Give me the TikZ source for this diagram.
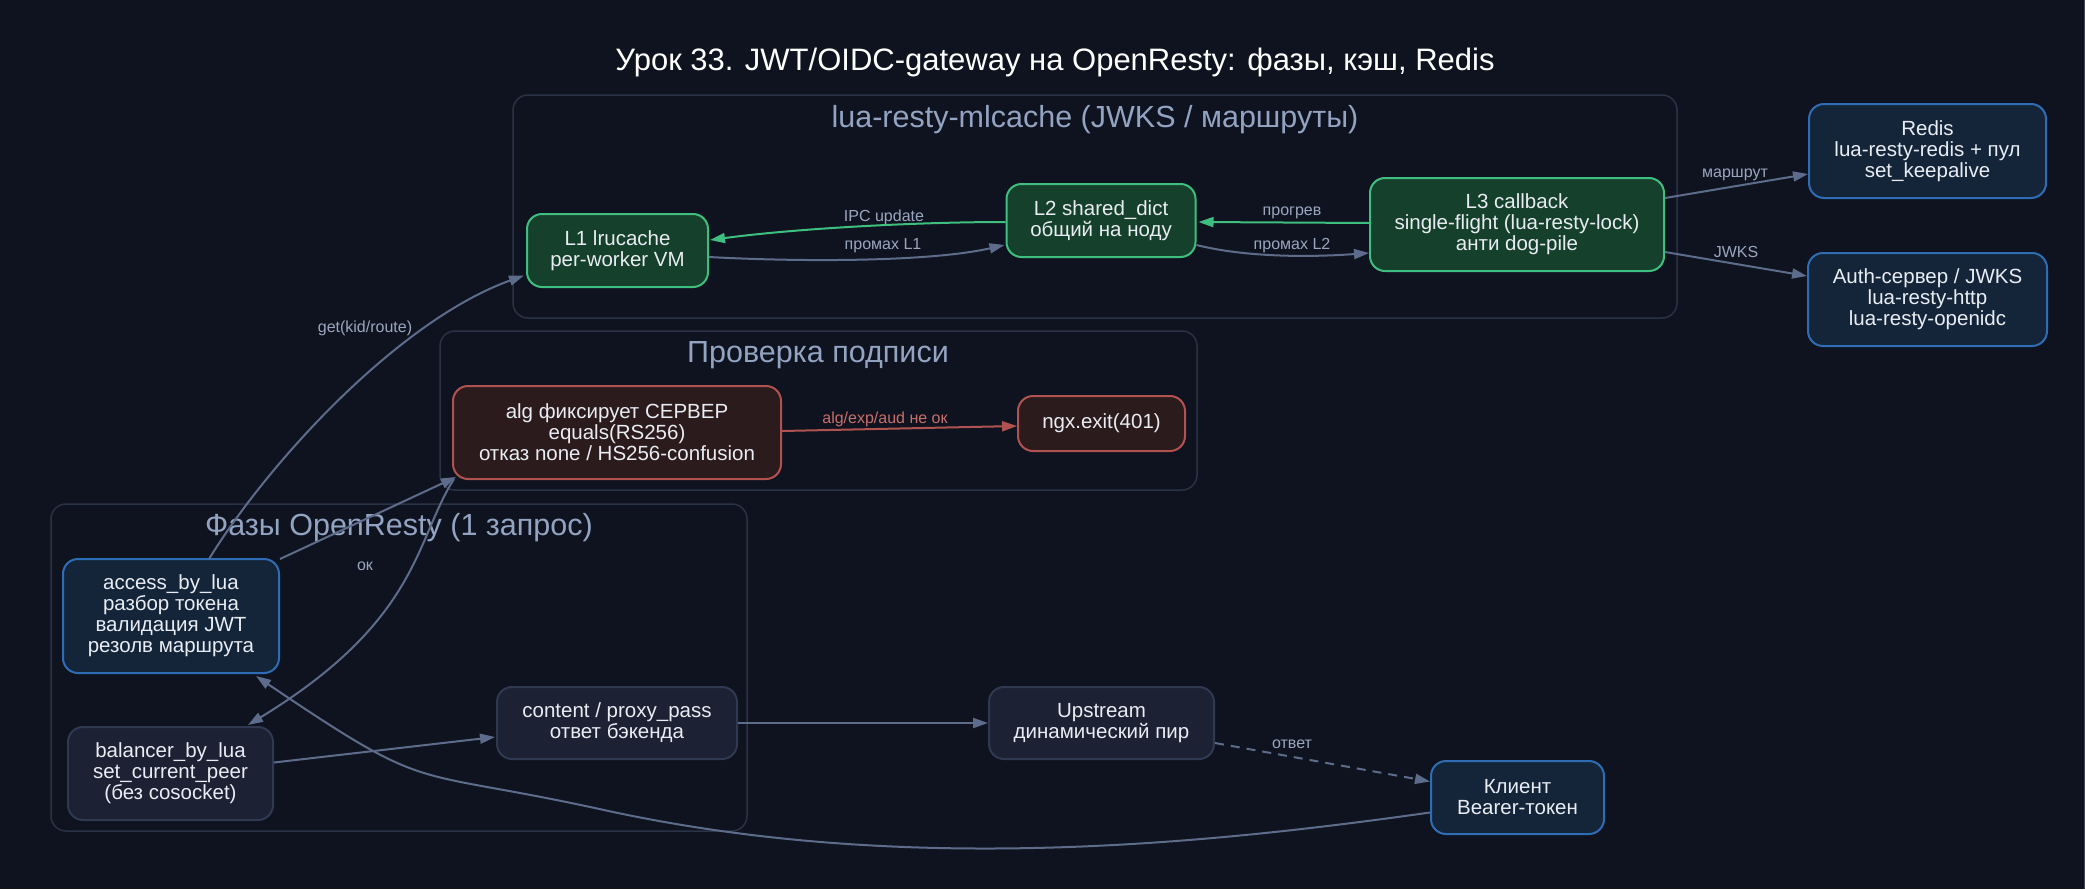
\documentclass[tikz,border=0pt]{standalone}
\usepackage{fontspec}
\setmainfont{Liberation Sans}
\usetikzlibrary{arrows.meta,calc}
\definecolor{bg}{HTML}{0F131F}
\definecolor{clborder}{HTML}{2A3246}
\definecolor{cllabel}{HTML}{93A3C2}
\definecolor{edgec}{HTML}{5E6C8C}
\definecolor{elabel}{HTML}{9AA6C0}
\definecolor{txt}{HTML}{E9EDF3}
\definecolor{gfill}{HTML}{15402B}
\definecolor{gdraw}{HTML}{3FBF7F}
\definecolor{bfill}{HTML}{14253A}
\definecolor{bdraw}{HTML}{2E6DB4}
\definecolor{rfill}{HTML}{2B1B1D}
\definecolor{rdraw}{HTML}{B0524F}
\definecolor{nfill}{HTML}{1C2133}
\definecolor{ndraw}{HTML}{2F3A52}
\definecolor{rlabel}{HTML}{C8706C}
\definecolor{edgeline}{HTML}{454B58}
\begin{document}
\begin{tikzpicture}[x=1pt,y=-1pt,
  box/.style={rectangle,rounded corners=15pt,line width=2pt,inner sep=0pt,align=center,text=txt,font=\fontsize{20.5}{21}\selectfont},
  gbox/.style={box,fill=gfill,draw=gdraw},
  bbox/.style={box,fill=bfill,draw=bdraw},
  rbox/.style={box,fill=rfill,draw=rdraw},
  nbox/.style={box,fill=nfill,draw=ndraw},
  cluster/.style={draw=clborder,line width=1.5pt,rounded corners=15pt},
  cltitle/.style={text=cllabel,font=\fontsize{30.5}{32}\selectfont,inner sep=0pt},
  elab/.style={text=elabel,font=\fontsize{16}{18}\selectfont,inner sep=0pt},
  conn/.style={draw=edgec,line width=2pt,-{Triangle[length=15pt,width=10pt]}},
  gconn/.style={conn,draw=gdraw,-{Triangle[length=15pt,width=10pt]}},
  rconn/.style={conn,draw=rdraw},
]
\useasboundingbox (0,0) rectangle (2085,889);
\fill[bg] (0,0) rectangle (2085,889);
\fill[edgeline] (2084,0) rectangle (2085,889);

\node[text=white,font=\fontsize{31}{33}\selectfont,inner sep=0pt] (title) at (1055,62) {Урок 33. JWT/OIDC-gateway на OpenResty: фазы, кэш, Redis};

% clusters
\draw[cluster] (513,95) rectangle (1677,318);
\node[cltitle] (clml) at (1095,120) {lua-resty-mlcache (JWKS / маршруты)};
\draw[cluster] (440,331) rectangle (1197,490);
\node[cltitle] (clsig) at (818,355) {Проверка подписи};
\draw[cluster] (51,504) rectangle (747,831);
\node[cltitle] (clph) at (399,528) {Фазы OpenResty (1 запрос)};

% nodes
\node[gbox,minimum width=181pt,minimum height=73pt] (l1) at (617.5,250.5) {L1 lrucache\\per-worker VM};
\node[gbox,minimum width=189pt,minimum height=73pt] (l2) at (1101,220.5) {L2 shared\_dict\\общий на ноду};
\node[gbox,minimum width=294pt,minimum height=93pt] (l3) at (1517,224.5) {L3 callback\\single-flight (lua-resty-lock)\\анти dog-pile};
\node[bbox,minimum width=237pt,minimum height=94pt] (redis) at (1927.5,151) {Redis\\lua-resty-redis + пул\\set\_keepalive};
\node[bbox,minimum width=239pt,minimum height=93pt] (auth) at (1927.5,299.5) {Auth-сервер / JWKS\\lua-resty-http\\lua-resty-openidc};
\node[rbox,minimum width=328pt,minimum height=93pt] (alg) at (617,432.5) {alg фиксирует СЕРВЕР\\equals(RS256)\\отказ none / HS256-confusion};
\node[rbox,minimum width=167pt,minimum height=55pt] (ngx) at (1101.5,423.5) {ngx.exit(401)};
\node[bbox,minimum width=216pt,minimum height=114pt] (access) at (171,616) {access\_by\_lua\\разбор токена\\валидация JWT\\резолв маршрута};
\node[nbox,minimum width=205pt,minimum height=93pt] (balancer) at (170.5,773.5) {balancer\_by\_lua\\set\_current\_peer\\(без cosocket)};
\node[nbox,minimum width=240pt,minimum height=72pt] (content) at (617,723) {content / proxy\_pass\\ответ бэкенда};
\node[nbox,minimum width=225pt,minimum height=72pt] (upstream) at (1101.5,723) {Upstream\\динамический пир};
\node[bbox,minimum width=173pt,minimum height=73pt] (client) at (1517.5,797.5) {Клиент\\Bearer-токен};

% edges
\draw[conn] ($(access.north)+(38,1)$) .. controls (270,460) and (400,320) .. ($(l1.west)+(-2,25)$);
\draw[conn] ($(access.north east)+(0,1)$) -- ($(alg.south west)+(4,-3)$);
\draw[conn] ($(alg.south west)+(2,-1)$) .. controls (415,540) and (420,620) .. ($(balancer.north)+(77.5,-1)$);
\draw[conn] ($(balancer.east)+(0,-11)$) -- ($(content.west)+(-1,14)$);
\draw[conn] (content.east) -- (upstream.west);
\draw[conn,dash pattern=on 9pt off 7pt] ($(upstream.east)+(0,20)$) -- ($(client.west)+(0,-16)$);
\draw[conn] ($(client.west)+(0,15)$) .. controls (1200,845) and (900,875) .. (604,810) .. controls (404,766) and (435,797) .. ($(access.south east)+(-24,2)$);
\draw[rconn] ($(alg.east)+(0,-1.5)$) -- ($(ngx.west)+(0,2.5)$);
\draw[conn] ($(l1.east)+(0,6.5)$) .. controls (800,262) and (930,262) .. ($(l2.west)+(-1,24.5)$);
\draw[gconn] ($(l2.west)+(0,1.5)$) .. controls (920,222) and (800,228) .. ($(l1.east)+(1,-10.5)$);
\draw[conn] ($(l2.east)+(0,24.5)$) .. controls (1240,256) and (1300,258) .. ($(l3.west)+(0,28.5)$);
\draw[gconn] ($(l3.west)+(0,-1.5)$) -- ($(l2.east)+(2,1.5)$);
\draw[conn] ($(l3.east)+(0,-26.5)$) -- ($(redis.west)+(0,23)$);
\draw[conn] ($(l3.east)+(0,27.5)$) -- ($(auth.west)+(0,-23.5)$);

% edge labels
\node[elab] (lget) at (365,328) {get(kid/route)};
\node[elab] (lok) at (365,566) {ок};
\node[elab] (lipc) at (884,217) {IPC update};
\node[elab] (lm1) at (883,246) {промах L1};
\node[elab] (lwarm) at (1292,213) {прогрев};
\node[elab] (lm2) at (1292,246) {промах L2};
\node[elab] (lroute) at (1735,175) {маршрут};
\node[elab] (ljwks) at (1736,252) {JWKS};
\node[elab,text=rlabel] (lbad) at (885,419) {alg/exp/aud не ок};
\node[elab] (lresp) at (1292,744) {ответ};
\end{tikzpicture}
\end{document}
